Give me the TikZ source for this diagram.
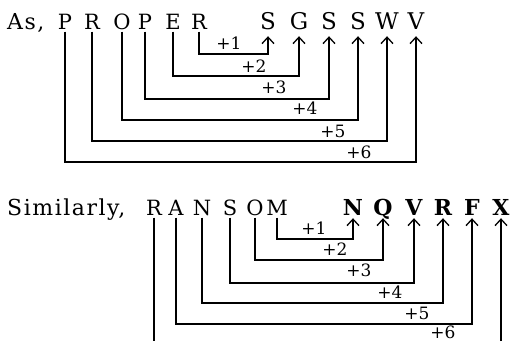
\documentclass[tikz,border=0pt]{standalone}
\usepackage{fontspec}
\setmainfont{DejaVu Serif}
\usetikzlibrary{arrows.meta}
\begin{document}
\begin{tikzpicture}[x=1pt,y=-1pt,
  ltr/.style={inner xsep=0pt,inner ysep=2.5pt,text depth=0pt,anchor=base,font=\fontsize{21}{21}\selectfont},
  tgt/.style={ltr,inner ysep=7pt,font=\fontsize{23}{23}\selectfont},
  btgt/.style={ltr,inner ysep=3pt,font=\fontsize{22}{22}\selectfont\bfseries},
  word/.style={inner sep=0pt,anchor=base west,font=\fontsize{22}{22}\selectfont\addfontfeature{LetterSpace=7}},
  lbl/.style={inner sep=0pt,font=\fontsize{17}{17}\selectfont},
  conn/.style={line width=1.2pt},
  arr/.style={conn,-{Straight Barb[length=6.5pt,width=12pt,line width=1.3pt]}}]
\useasboundingbox (0,0) rectangle (513,341);
% ---- top ----
\node[word] (as) at (7,29) {As,};
\node[ltr] (a1) at (65,29) {P};
\node[ltr] (a2) at (92,29) {R};
\node[ltr] (a3) at (122,29) {O};
\node[ltr] (a4) at (145,29) {P};
\node[ltr] (a5) at (173,29) {E};
\node[ltr] (a6) at (199,29) {R};
\node[tgt] (b1) at (268,29) {S};
\node[tgt] (b2) at (299,29) {G};
\node[tgt] (b3) at (329,29) {S};
\node[tgt] (b4) at (358,29) {S};
\node[tgt] (b5) at (387,29) {W};
\node[tgt] (b6) at (416,29) {V};
\coordinate (h1) at (0,54);
\coordinate (h2) at (0,76);
\coordinate (h3) at (0,99);
\coordinate (h4) at (0,120);
\coordinate (h5) at (0,141);
\coordinate (h6) at (0,162);
\draw[arr] (a6.south) -- (a6.south |- h1) -| (b1.south);
\draw[arr] (a5.south) -- (a5.south |- h2) -| (b2.south);
\draw[arr] (a4.south) -- (a4.south |- h3) -| (b3.south);
\draw[arr] (a3.south) -- (a3.south |- h4) -| (b4.south);
\draw[arr] (a2.south) -- (a2.south |- h5) -| (b5.south);
\draw[arr] (a1.south) -- (a1.south |- h6) -| (b6.south);
\node[lbl] (p1) at (229,43) {+1};
\node[lbl] (p2) at (254,66) {+2};
\node[lbl] (p3) at (274,87) {+3};
\node[lbl] (p4) at (305,108) {+4};
\node[lbl] (p5) at (333,131) {+5};
\node[lbl] (p6) at (359,152) {+6};
% ---- bottom ----
\node[word] (sim) at (7,215) {Similarly,};
\node[ltr] (c1) at (154,215) {R};
\node[ltr] (c2) at (176,215) {A};
\node[ltr] (c3) at (202,215) {N};
\node[ltr] (c4) at (230,215) {S};
\node[ltr] (c5) at (255,215) {O};
\node[ltr] (c6) at (277,215) {M};
\node[btgt] (d1) at (353,215) {N};
\node[btgt] (d2) at (383,215) {Q};
\node[btgt] (d3) at (414,215) {V};
\node[btgt] (d4) at (443,215) {R};
\node[btgt] (d5) at (472,215) {F};
\node[btgt] (d6) at (501,215) {X};
\coordinate (k1) at (0,239);
\coordinate (k2) at (0,260);
\coordinate (k3) at (0,283);
\coordinate (k4) at (0,303);
\coordinate (k5) at (0,324);
\coordinate (kb) at (0,341);
\draw[arr] (c6.south) -- (c6.south |- k1) -| (d1.south);
\draw[arr] (c5.south) -- (c5.south |- k2) -| (d2.south);
\draw[arr] (c4.south) -- (c4.south |- k3) -| (d3.south);
\draw[arr] (c3.south) -- (c3.south |- k4) -| (d4.south);
\draw[arr] (c2.south) -- (c2.south |- k5) -| (d5.south);
\draw[conn] (c1.south) -- (c1.south |- kb);
\draw[arr] (d6.south |- kb) -- (d6.south);
\node[lbl] (q1) at (314,228) {+1};
\node[lbl] (q2) at (335,249) {+2};
\node[lbl] (q3) at (359,270) {+3};
\node[lbl] (q4) at (390,292) {+4};
\node[lbl] (q5) at (417,313) {+5};
\node[lbl] (q6) at (443,332) {+6};
\end{tikzpicture}
\end{document}
